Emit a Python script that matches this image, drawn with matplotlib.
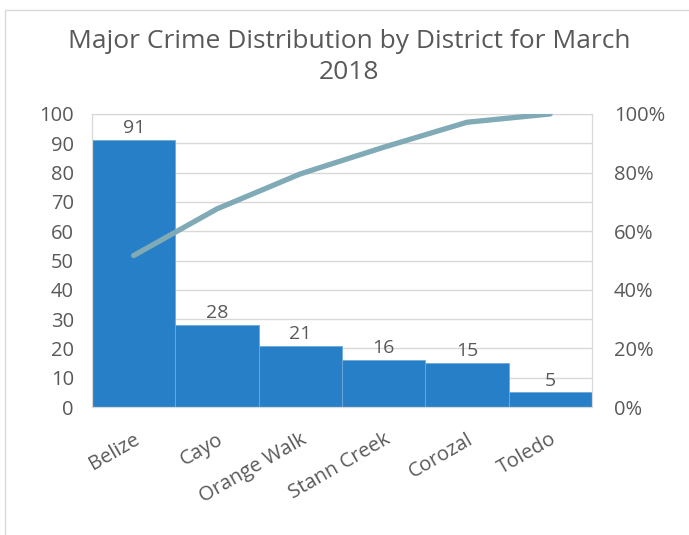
import matplotlib
matplotlib.use("Agg")
import matplotlib.pyplot as plt
import numpy as np
from matplotlib.patches import Rectangle

# ================= DATA =================
districts = ["Belize", "Cayo", "Orange Walk", "Stann Creek", "Corozal", "Toledo"]
crimes = [91, 28, 21, 16, 15, 5]
title = "Major Crime Distribution by District for March\n2018"

# ================= STYLE =================
bar_color = "#2780C7"
line_color = "#7FAAB6"
text_color = "#595959"
grid_color = "#D9D9D9"
plt.rcParams.update({"font.family": ["Open Sans", "DejaVu Sans"]})

cum_share = np.cumsum(crimes) / np.sum(crimes)
x = np.arange(len(districts))

fig = plt.figure(figsize=(6.89, 5.35), dpi=100)
ax = fig.add_axes([0.1335, 0.239, 0.7255, 0.548])

# outer chart border
fig.patches.append(Rectangle((5 / 689, -0.1), 1.2, 1.0 - 10 / 535 + 0.1,
                             transform=fig.transFigure, fill=False,
                             edgecolor="#D9D9D9", linewidth=1.0))

ax.bar(x, crimes, width=1.0, color=bar_color, edgecolor="#6FAAD9",
       linewidth=0.6, zorder=2)
for xi, v in zip(x, crimes):
    ax.text(xi, v + 1.0, str(v), ha="center", va="bottom", fontsize=14,
            color=text_color)

ax.set_xlim(-0.5, len(districts) - 0.5)
ax.set_ylim(0, 100)
ax.set_yticks(np.arange(0, 101, 10))
ax.yaxis.grid(True, color=grid_color, linewidth=1.0, zorder=0)
ax.set_axisbelow(True)
for s in ax.spines.values():
    s.set_color(grid_color)
ax.tick_params(axis="both", length=0, labelsize=14.5, colors=text_color, pad=13)
ax.set_xticks(x)
ax.set_xticklabels(districts, rotation=30, ha="right", rotation_mode="anchor",
                   fontsize=14.5)
ax.tick_params(axis="x", pad=16)

ax2 = ax.twinx()
ax2.plot(x, cum_share, color=line_color, linewidth=3.8, solid_capstyle="round",
         zorder=3)
ax2.set_ylim(0, 1)
ax2.set_yticks(np.arange(0, 1.01, 0.2))
ax2.set_yticklabels([f"{int(round(t * 100))}%" for t in np.arange(0, 1.01, 0.2)])
ax2.tick_params(axis="y", length=0, labelsize=14.5, colors=text_color, pad=16)
for s in ax2.spines.values():
    s.set_color(grid_color)

fig.text(0.507, 0.893, title, ha="center", va="center", fontsize=19,
         color=text_color, linespacing=1.3)

fig.savefig("out.png", dpi=100)
